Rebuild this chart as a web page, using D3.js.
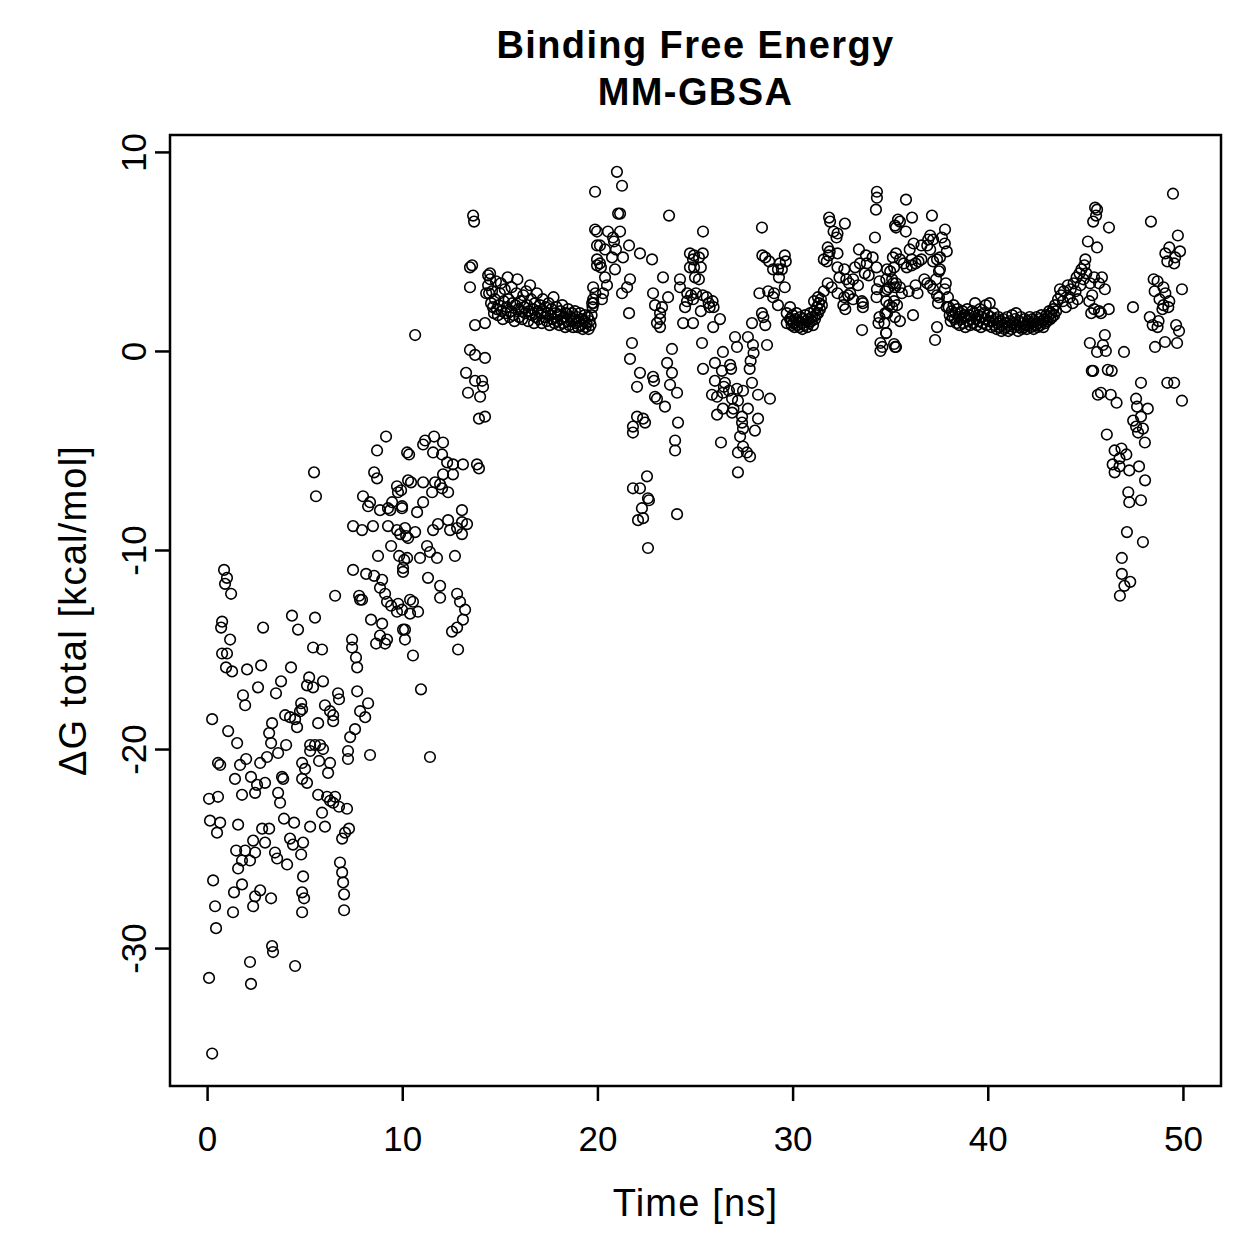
<!DOCTYPE html>
<html>
<head>
<meta charset="utf-8">
<script src="https://cdn.jsdelivr.net/npm/d3@7"></script>
<style>
  body { margin: 0; background: #fff; }
  text { font-family: "Liberation Sans", Arial, Helvetica, sans-serif; fill: #000; }
</style>
</head>
<body>
<script>
'use strict';

// chart text
const titleLines = ["Binding Free Energy", "MM-GBSA"];
const xLabel = "Time [ns]";
const yLabel = "\u0394G total [kcal/mol]";
const xTicks = [0, 10, 20, 30, 40, 50];
const yTicks = [-30, -20, -10, 0, 10];

// [time (ns), dG total (kcal/mol)], grouped by time window
const pts0to5 = [
  [0.87,-11.0],[1.02,-11.4],[0.92,-11.7],[1.23,-12.2],[4.35,-13.3],[4.66,-14.0],[2.87,-13.9],[0.77,-13.6],
  [0.72,-13.9],[1.18,-14.5],[0.77,-15.2],[1.02,-15.2],[0.97,-15.9],[1.28,-16.1],[2.05,-16.0],[2.77,-15.8],
  [4.30,-15.9],[3.79,-16.6],[5.12,-16.8],[2.61,-16.9],[3.53,-17.2],[1.84,-17.3],[1.95,-17.8],[0.26,-18.5],
  [1.08,-19.1],[1.54,-19.7],[3.33,-18.7],[4.0,-18.3],[4.25,-18.4],[4.51,-18.5],[4.76,-18.1],[4.61,-18.9],
  [3.18,-19.2],[3.28,-19.7],[4.05,-19.8],[3.64,-20.2],[0.56,-20.7],[0.67,-20.8],[1.69,-20.8],[2.0,-20.5],
  [2.72,-20.7],[3.07,-20.4],[1.43,-21.5],[2.25,-21.4],[2.56,-21.8],[2.97,-21.7],[3.84,-21.4],[3.9,-21.5],
  [4.87,-21.5],[0.1,-22.5],[0.56,-22.4],[1.79,-22.3],[2.46,-22.2],[3.64,-22.2],[3.74,-22.7],[0.15,-23.6],
  [0.67,-23.7],[0.51,-24.2],[1.59,-23.8],[2.82,-24.0],[3.18,-24.0],[3.94,-23.5],[4.46,-23.7],[4.25,-24.5],
  [4.4,-24.8],[2.36,-24.6],[2.97,-24.7],[1.49,-25.1],[1.95,-25.1],[2.46,-25.2],[2.2,-25.6],[1.79,-25.6],
  [1.59,-26.0],[3.48,-25.2],[3.59,-25.5],[4.1,-25.8],[4.82,-25.3],[0.31,-26.6],[1.38,-27.2],[1.79,-26.8],
  [2.72,-27.1],[2.46,-27.4],[3.28,-27.5],[2.36,-27.9],[0.41,-27.9],[1.33,-28.2],[4.87,-27.2],[4.87,-28.2],
  [0.46,-29.0],[3.33,-29.9],[3.38,-30.2],[2.2,-30.7],[4.51,-30.9],[0.1,-31.5],[2.25,-31.8],[0.26,-35.3]
];

const pts5to10 = [
  [9.17,-4.3],[8.71,-5.0],[10.25,-5.1],[5.48,-6.1],[5.58,-7.3],[8.56,-6.1],[8.71,-6.4],[9.73,-6.8],
  [9.78,-7.1],[10.3,-6.5],[7.99,-7.3],[8.35,-7.6],[8.25,-7.8],[8.86,-8.0],[9.27,-7.9],[9.48,-7.6],
  [9.38,-8.0],[9.99,-7.8],[7.48,-8.8],[7.94,-9.0],[8.5,-8.8],[9.27,-8.8],[9.73,-9.0],[9.89,-9.2],
  [10.2,-9.3],[9.43,-9.8],[8.76,-10.3],[9.84,-10.3],[10.1,-10.5],[10.04,-10.9],[7.48,-11.0],[8.15,-11.2],
  [8.56,-11.3],[8.97,-11.5],[6.56,-12.3],[7.79,-12.3],[7.84,-12.5],[7.94,-12.5],[8.86,-11.9],[9.12,-12.2],
  [9.22,-12.6],[9.43,-12.8],[9.79,-12.7],[9.73,-13.1],[10.4,-12.5],[10.04,-14.0],[8.4,-13.5],[8.97,-13.7],
  [8.86,-14.3],[9.22,-14.5],[8.66,-14.7],[9.12,-14.7],[5.53,-13.4],[7.43,-14.5],[5.43,-14.9],[5.89,-15.0],
  [7.43,-14.9],[7.63,-15.4],[7.69,-15.9],[5.23,-16.4],[5.43,-16.9],[5.94,-16.6],[6.71,-17.2],[6.76,-17.5],
  [7.69,-17.1],[8.25,-17.7],[7.84,-18.1],[8.1,-18.4],[4.82,-17.7],[4.87,-18.0],[6.04,-17.8],[6.3,-18.1],
  [6.46,-18.3],[6.46,-18.6],[5.69,-18.7],[7.58,-19.0],[7.33,-19.4],[8.35,-20.3],[5.28,-19.8],[5.53,-19.8],
  [5.79,-19.8],[5.94,-20.0],[5.28,-20.1],[5.74,-20.6],[6.3,-20.7],[7.22,-20.1],[7.22,-20.5],[6.2,-21.2],
  [4.87,-20.7],[5.02,-21.0],[5.12,-21.7],[5.69,-22.3],[6.15,-22.4],[6.3,-22.6],[6.46,-22.7],[6.56,-22.4],
  [6.76,-22.9],[5.89,-23.2],[7.17,-23.0],[5.28,-23.9],[6.04,-23.9],[7.27,-24.0],[7.07,-24.2],[6.92,-24.5],
  [4.92,-24.7],[6.81,-25.7],[6.92,-26.2],[4.92,-26.4],[6.97,-26.7],[4.97,-27.5],[7.02,-27.3],[7.02,-28.1]
];

const pts10to15 = [
  [13.63,6.8],[13.68,6.5],[13.47,4.2],[13.58,4.3],[14.4,3.8],[14.4,3.3],[13.47,3.2],[14.3,2.9],
  [13.73,1.3],[14.24,1.4],[10.66,0.8],[13.47,0.05],[13.73,-0.2],[14.24,-0.35],[13.27,-1.1],[13.73,-1.5],
  [14.09,-1.5],[14.14,-1.8],[13.37,-2.1],[13.99,-2.3],[13.93,-3.4],[14.24,-3.3],[10.35,-5.2],[11.07,-4.7],
  [11.17,-4.5],[11.63,-4.3],[11.58,-5.1],[12.04,-5.2],[12.09,-4.6],[12.3,-5.6],[12.6,-5.7],[13.11,-5.7],
  [13.83,-5.7],[13.93,-5.9],[12.6,-6.2],[12.09,-6.2],[10.45,-6.6],[11.07,-6.6],[11.68,-6.6],[11.94,-6.7],
  [12.04,-6.9],[12.35,-7.1],[11.53,-7.1],[9.94,-7.0],[9.99,-7.9],[10.76,-8.1],[11.07,-7.6],[13.06,-8.0],
  [11.83,-8.7],[12.35,-8.5],[12.45,-9.0],[12.81,-8.9],[13.06,-8.6],[13.32,-8.7],[13.06,-9.2],[11.58,-9.0],
  [10.14,-8.9],[10.66,-9.1],[10.3,-9.4],[11.27,-9.8],[11.42,-10.1],[10.91,-10.4],[10.25,-10.4],[11.78,-10.4],
  [12.7,-10.3],[10.04,-11.1],[11.32,-11.4],[11.94,-11.8],[11.94,-12.4],[12.81,-12.2],[12.96,-12.6],[13.22,-13.0],
  [10.55,-12.6],[10.81,-13.1],[10.4,-13.2],[9.99,-13.0],[13.11,-13.5],[12.81,-13.9],[12.55,-14.1],[10.14,-14.0],
  [10.14,-14.5],[10.55,-15.3],[12.86,-15.0],[10.96,-17.0],[11.42,-20.4]
];

const pts15to20 = [
  [14.5,3.9],[14.5,3.6],[14.45,2.9],[14.55,2.4],[14.6,3.0],[14.65,2.2],[14.7,1.9],[14.75,2.6],[14.8,3.5],
  [14.85,2.1],[14.9,1.8],[14.95,2.3],[15.0,2.9],[15.05,3.4],[15.1,2.0],[15.15,1.6],[15.2,2.5],[15.25,3.1],
  [15.3,1.9],[15.35,2.2],[15.4,3.7],[15.45,2.6],[15.5,1.7],[15.55,2.0],[15.6,3.2],[15.65,2.4],[15.7,1.8],
  [15.75,1.5],[15.8,2.3],[15.85,2.9],[15.9,3.6],[15.95,2.1],[16.0,1.7],[16.05,2.5],[16.1,2.0],[16.15,1.6],
  [16.2,2.8],[16.25,2.2],[16.3,1.9],[16.35,3.0],[16.4,2.3],[16.45,1.5],[16.5,2.0],[16.55,3.3],[16.6,2.6],
  [16.65,1.8],[16.7,2.1],[16.75,1.4],[16.8,2.4],[16.85,1.7],[16.9,2.9],[16.95,2.0],[17.0,1.6],[17.05,2.3],
  [17.1,1.9],[17.15,1.4],[17.2,2.6],[17.25,2.0],[17.3,1.7],[17.35,2.2],[17.4,1.5],[17.45,1.9],[17.5,2.4],
  [17.55,1.3],[17.6,1.8],[17.65,2.1],[17.7,1.6],[17.75,2.7],[17.8,1.4],[17.85,1.9],[17.9,2.2],[17.95,1.5],
  [18.0,1.8],[18.05,1.3],[18.1,2.0],[18.15,1.6],[18.2,2.3],[18.25,1.4],[18.3,1.7],[18.35,1.2],[18.4,1.9],
  [18.45,1.5],[18.5,2.1],[18.55,1.3],[18.6,1.7],[18.65,1.5],[18.7,1.9],[18.75,1.2],[18.8,1.6],[18.85,2.0],
  [18.9,1.4],[18.95,1.7],[19.0,1.2],[19.05,1.5],[19.1,1.9],[19.15,1.3],[19.2,1.6],[19.25,1.1],[19.3,1.5],
  [19.35,1.8],[19.4,1.2],[19.45,1.4],[19.5,1.7],[19.55,1.1],[19.6,1.5],[19.65,1.3],[19.7,1.8],[19.75,2.2],
  [19.88,8.0],[19.88,6.1],[19.98,5.3],[19.98,4.6],[19.98,4.3],[19.78,3.2],[19.73,2.4],[19.78,2.6]
];

const pts20to25 = [
  [21.0,9.0],[21.26,8.3],[21.06,6.9],[21.16,6.9],[23.67,6.8],[19.98,6.0],[20.54,6.0],[21.16,6.0],
  [20.8,5.7],[20.85,5.5],[20.13,5.3],[20.39,5.1],[21.62,5.3],[20.95,5.1],[21.31,4.7],[22.18,4.9],
  [22.8,4.6],[20.75,4.7],[20.13,4.4],[20.18,4.2],[20.9,4.1],[23.36,3.7],[20.39,3.7],[20.49,3.3],
  [21.67,3.6],[21.52,3.2],[21.26,2.9],[20.29,2.9],[19.9,2.9],[20.23,2.6],[19.8,2.4],[22.85,2.9],
  [23.62,2.7],[22.95,2.3],[23.31,2.2],[23.21,1.9],[23.21,1.6],[23.21,1.2],[23.05,1.4],[24.23,3.2],
  [24.49,2.2],[24.59,2.5],[24.9,2.6],[24.6,2.9],[24.74,4.9],[24.9,4.6],[24.74,4.2],[24.23,3.6],
  [24.39,1.4],[21.62,1.9],[21.77,0.4],[21.67,-0.4],[22.18,-1.1],[22.03,-1.8],[22.85,-1.3],[22.9,-1.5],
  [23.82,0.1],[23.57,-0.6],[23.82,-1.1],[23.72,-1.7],[24.08,-2.1],[22.95,-2.3],[23.05,-2.4],[23.46,-2.8],
  [24.13,-3.6],[22.03,-3.3],[22.34,-3.4],[22.44,-3.6],[21.82,-3.8],[21.82,-4.1],[23.98,-4.5],[23.98,-5.0],
  [22.54,-6.3],[21.82,-6.9],[22.18,-6.9],[22.59,-7.4],[22.64,-7.5],[22.28,-7.9],[22.34,-8.4],[22.08,-8.5],
  [24.08,-8.2],[22.59,-9.9]
];

const pts25to30 = [
  [25.41,6.0],[28.43,6.2],[24.95,4.8],[25.2,4.7],[25.4,4.9],[24.95,4.2],[25.3,4.2],[25.0,3.7],
  [25.2,3.6],[24.8,2.8],[25.05,2.9],[25.4,2.8],[25.6,2.7],[25.7,2.4],[25.9,2.5],[25.75,2.2],
  [25.95,2.2],[25.3,2.0],[24.9,1.4],[28.45,4.8],[28.6,4.7],[28.8,4.5],[29.6,4.8],[29.65,4.5],
  [29.35,4.4],[29.0,4.1],[29.25,4.1],[29.45,4.1],[29.3,3.7],[28.3,2.9],[28.75,3.0],[29.05,2.9],
  [29.6,3.2],[29.0,2.7],[29.25,2.3],[29.87,2.2],[29.7,1.9],[29.87,1.6],[29.95,1.5],[30.05,1.4],
  [29.7,1.4],[28.43,1.9],[28.5,1.7],[28.6,1.3],[26.28,1.6],[25.93,1.2],[25.36,0.4],[27.92,1.4],
  [27.05,0.7],[27.71,0.7],[27.97,0.3],[28.0,-0.1],[27.15,0.2],[28.69,0.3],[26.43,-0.05],[27.85,-0.5],
  [27.8,-0.9],[25.41,-0.9],[26.02,-0.6],[26.8,-0.7],[26.85,-0.9],[26.38,-1.0],[27.92,-1.6],[26.02,-1.5],
  [26.53,-1.6],[26.48,-1.8],[26.74,-2.0],[27.15,-1.9],[27.46,-2.0],[25.87,-2.2],[26.13,-2.3],[26.43,-2.1],
  [26.9,-2.4],[28.23,-2.2],[28.84,-2.4],[27.2,-2.5],[26.13,-3.2],[26.43,-2.9],[26.9,-3.1],[26.97,-2.9],
  [27.41,-3.3],[27.71,-2.9],[27.41,-3.6],[28.23,-3.4],[28.07,-4.0],[27.46,-3.9],[27.31,-4.3],[26.33,-4.6],
  [27.46,-4.8],[27.2,-5.1],[27.66,-5.1],[27.82,-5.3],[27.2,-6.1]
];

const pts30to35 = [
  [29.9,1.6],[29.95,1.3],[30.0,1.8],[30.05,1.4],[30.1,1.2],[30.15,1.6],[30.2,1.9],[30.25,1.3],[30.3,1.5],
  [30.35,1.2],[30.4,1.7],[30.45,1.4],[30.5,1.1],[30.55,1.6],[30.6,1.3],[30.65,1.8],[30.7,1.5],[30.75,1.2],
  [30.8,1.6],[30.85,1.4],[30.9,1.9],[30.95,1.5],[31.0,1.7],[31.05,1.3],[31.1,2.0],[31.15,1.6],[31.2,1.8],
  [31.25,2.2],[31.3,1.9],[31.35,2.4],[31.4,2.1],[31.45,2.6],[31.5,2.3],
  [34.32,8.0],[34.32,7.7],[34.27,7.1],[31.87,6.7],[31.92,6.5],[32.68,6.4],[32.1,6.0],[32.3,5.9],
  [32.25,5.7],[34.22,5.7],[35.25,6.3],[35.4,6.6],[31.8,5.2],[31.9,5.0],[31.85,4.8],[31.6,4.6],
  [31.75,4.5],[32.3,4.9],[33.4,5.1],[33.76,4.8],[34.1,4.7],[35.14,4.7],[32.3,4.2],[32.65,4.1],
  [33.2,4.2],[33.45,4.4],[33.8,4.4],[34.3,4.2],[34.84,4.1],[35.2,4.2],[32.4,3.7],[32.75,3.6],
  [32.9,3.4],[33.1,3.6],[33.35,3.3],[33.7,3.9],[33.9,3.8],[34.45,3.5],[34.8,3.6],[35.15,3.4],
  [31.8,3.4],[32.0,3.2],[31.6,3.0],[31.3,2.7],[31.1,2.5],[32.3,2.9],[32.65,2.7],[32.95,2.9],
  [33.1,2.6],[32.85,2.8],[33.6,2.4],[33.55,2.5],[34.32,3.1],[34.85,3.1],[35.25,3.2],[34.3,2.7],
  [34.8,2.5],[34.95,2.3],[32.6,2.3],[32.7,2.1],[33.6,2.2],[34.84,1.9],[34.45,1.7],[34.4,1.4],
  [35.25,1.7],[33.56,1.05],[34.79,0.9],[34.5,0.4],[34.6,0.2],[34.5,0.0],[35.25,0.2],[35.2,0.35]
];

const pts35to40 = [
  [35.81,7.6],[37.14,6.8],[36.12,6.7],[35.3,6.2],[35.5,6.5],[35.8,6.0],[37.81,6.1],[37.05,5.8],
  [37.2,5.6],[37.65,5.7],[37.8,5.4],[37.9,5.0],[36.9,5.3],[37.05,5.1],[36.95,5.6],[36.6,5.3],
  [36.2,5.4],[36.0,5.1],[35.3,4.9],[35.5,4.6],[35.7,4.4],[35.85,4.2],[36.1,4.6],[36.3,4.4],
  [36.45,4.5],[36.6,4.6],[36.1,4.3],[37.2,4.5],[37.4,4.6],[37.55,4.7],[37.55,4.1],[37.5,4.0],
  [35.0,4.0],[35.1,3.6],[34.95,3.2],[35.3,3.4],[34.75,3.0],[35.5,3.2],[35.6,2.9],[35.95,3.0],
  [36.3,3.3],[36.4,2.9],[36.75,3.6],[36.9,3.4],[37.05,3.3],[37.35,3.6],[37.2,3.1],[37.85,3.4],
  [37.8,3.1],[37.4,2.8],[37.45,2.4],[37.5,2.7],[37.96,2.7],[35.2,2.5],[35.1,2.2],[35.35,2.3],
  [34.75,1.9],[34.7,1.4],[34.8,0.9],[35.5,1.5],[35.3,0.2],[36.17,1.8],[37.4,1.2],[37.3,0.55],[37.9,2.2],
  [38.0,2.2],[38.05,1.8],[38.1,1.5],[38.15,2.0],[38.2,1.7],[38.25,2.3],[38.3,1.6],[38.35,1.9],[38.4,1.4],
  [38.45,2.1],[38.5,1.7],[38.55,1.3],[38.6,1.9],[38.65,1.6],[38.7,2.0],[38.75,1.4],[38.8,1.8],[38.85,1.2],
  [38.9,1.7],[38.95,2.1],[39.0,1.5],[39.05,1.8],[39.1,1.3],[39.15,1.6],[39.2,2.0],[39.25,1.4],[39.3,1.9],
  [39.35,2.4],[39.4,1.6],[39.45,1.3],[39.5,1.8],[39.55,1.5],[39.6,2.1],[39.65,1.2],[39.7,1.7],[39.75,1.4],
  [39.8,1.9],[39.85,1.6],[39.9,2.3],[39.95,1.3]
];

const pts40to45 = [
  [40.0,1.8],[40.05,1.5],[40.1,2.4],[40.15,1.7],[40.2,1.2],[40.25,1.5],[40.3,1.9],[40.35,1.3],[40.4,1.6],
  [40.45,1.1],[40.5,1.4],[40.55,1.7],[40.6,1.2],[40.65,1.5],[40.7,1.0],[40.75,1.3],[40.8,1.6],[40.85,1.1],
  [40.9,1.4],[40.95,1.2],[41.0,1.7],[41.05,1.0],[41.1,1.3],[41.15,1.5],[41.2,1.1],[41.25,1.8],[41.3,1.4],
  [41.35,1.2],[41.4,1.6],[41.45,1.9],[41.5,1.3],[41.55,1.0],[41.6,1.5],[41.65,1.2],[41.7,1.7],[41.75,1.1],
  [41.8,1.4],[41.85,1.2],[41.9,1.6],[41.95,1.3],[42.0,1.1],[42.05,1.5],[42.1,1.3],[42.15,1.7],[42.2,1.2],
  [42.25,1.4],[42.3,1.6],[42.35,1.1],[42.4,1.5],[42.45,1.3],[42.5,1.7],[42.55,1.2],[42.6,1.4],[42.65,1.6],
  [42.7,1.3],[42.75,1.8],[42.8,1.5],[42.85,1.2],[42.9,1.6],[42.95,1.4],[43.0,1.8],[43.05,1.5],[43.1,1.7],
  [43.15,2.0],[43.2,1.6],[43.25,1.9],[43.3,1.7],[43.35,2.1],[43.4,1.8],[43.45,2.3],[43.5,2.0],
  [43.6,2.6],[43.7,3.1],[43.75,2.8],[43.85,2.5],[43.9,3.0],[44.0,2.2],[44.1,3.3],[44.2,2.7],
  [44.25,3.1],[44.35,2.4],[44.4,3.4],[44.5,3.0],[44.55,3.7],[44.6,2.6],[44.7,3.9],[44.75,3.3],
  [44.8,4.1],[44.9,3.6],[44.95,4.3],[45.0,4.6],[45.05,3.9],[45.13,5.5],[45.2,2.5],[45.25,3.4],
  [45.3,1.9],[45.35,2.8],[45.45,3.7],[45.4,6.5],[45.5,7.2],[45.55,6.8],[45.6,5.2],[45.23,0.4],
  [45.6,-0.05],[45.33,-1.0],[45.64,-2.2]
];

const pts45to50 = [
  [49.49,7.9],[48.36,6.5],[45.6,7.1],[46.21,6.2],[49.74,5.8],[49.3,5.2],[49.1,4.9],[49.6,4.7],
  [49.85,5.0],[49.2,4.5],[49.55,4.4],[45.85,3.7],[45.7,3.4],[46.0,3.1],[48.5,3.6],[48.7,3.5],
  [48.55,3.0],[49.0,3.2],[49.1,2.9],[49.95,3.1],[48.8,2.6],[49.0,2.3],[49.3,2.5],[48.95,2.1],
  [49.25,2.2],[48.3,1.7],[48.45,1.3],[48.7,1.2],[48.75,1.5],[49.65,1.3],[49.8,1.0],[48.57,0.2],
  [49.08,0.45],[49.7,0.4],[45.45,2.1],[45.7,2.0],[46.2,2.1],[45.8,1.9],[47.44,2.2],[46.0,0.8],
  [45.9,0.3],[46.05,0.0],[46.98,-0.05],[45.4,-1.0],[46.15,-0.95],[46.35,-1.0],[47.85,-1.6],[49.2,-1.6],
  [49.55,-1.6],[49.95,-2.5],[45.8,-2.1],[46.3,-2.2],[46.6,-2.6],[47.6,-2.4],[47.65,-2.8],[48.2,-2.9],
  [47.45,-3.5],[47.85,-3.3],[47.6,-3.8],[47.95,-3.9],[47.7,-4.1],[48.05,-4.6],[46.1,-4.2],[46.5,-5.0],
  [46.85,-4.9],[47.1,-5.2],[46.75,-5.4],[46.4,-5.7],[46.5,-6.1],[46.75,-5.8],[47.25,-6.0],[47.75,-5.8],
  [48.06,-6.5],[47.2,-7.1],[47.25,-7.6],[47.85,-7.5],[47.13,-9.1],[47.95,-9.6],[46.87,-10.4],[46.87,-11.2],
  [47.3,-11.6],[47.0,-11.8],[46.77,-12.3]
];

const data = [].concat(pts0to5, pts5to10, pts10to15, pts15to20, pts20to25,
  pts25to30, pts30to35, pts35to40, pts40to45, pts45to50);

// plot box (R style, axes extend a bit past the data)
const W = 1259, H = 1259;
const box = { left: 170, right: 1221, top: 135, bottom: 1086 };

const svg = d3.select('body').append('svg')
  .attr('width', W)
  .attr('height', H);

const x = d3.scaleLinear()
  .domain([-1.9, 51.95])
  .range([box.left, box.right]);

const y = d3.scaleLinear()
  .domain([-36.93, 10.85])
  .range([box.bottom, box.top]);

// points (open circles)
svg.append('g')
  .selectAll('circle')
  .data(data)
  .enter()
  .append('circle')
  .attr('cx', d => x(d[0]))
  .attr('cy', d => y(d[1]))
  .attr('r', 5.3)
  .attr('fill', 'none')
  .attr('stroke', '#000')
  .attr('stroke-width', 1.6);

// box
svg.append('rect')
  .attr('x', box.left)
  .attr('y', box.top)
  .attr('width', box.right - box.left)
  .attr('height', box.bottom - box.top)
  .attr('fill', 'none')
  .attr('stroke', '#000')
  .attr('stroke-width', 2.5);

// R prints plain hyphens for negatives
const plain = d => String(d);

// x axis
const gx = svg.append('g')
  .attr('transform', 'translate(0,' + box.bottom + ')')
  .call(d3.axisBottom(x).tickValues(xTicks).tickFormat(plain)
    .tickSize(15).tickPadding(25).tickSizeOuter(0));
gx.select('.domain').remove();
gx.selectAll('line').attr('stroke-width', 2.5);
gx.selectAll('text').style('font-size', '35px');

// y axis, labels parallel to the axis
const gy = svg.append('g')
  .attr('transform', 'translate(' + box.left + ',0)')
  .call(d3.axisLeft(y).tickValues(yTicks).tickFormat(plain)
    .tickSize(15).tickSizeOuter(0));
gy.select('.domain').remove();
gy.selectAll('line').attr('stroke-width', 2.5);
gy.selectAll('text')
  .attr('x', null)
  .attr('dy', null)
  .attr('text-anchor', 'middle')
  .attr('transform', 'translate(-24,0) rotate(-90)')
  .style('font-size', '35px');

// title
svg.append('text')
  .attr('x', (box.left + box.right) / 2)
  .attr('y', 58)
  .attr('text-anchor', 'middle')
  .style('font-size', '38px')
  .style('font-weight', 'bold')
  .style('letter-spacing', '1.4px')
  .text(titleLines[0]);

svg.append('text')
  .attr('x', (box.left + box.right) / 2)
  .attr('y', 105)
  .attr('text-anchor', 'middle')
  .style('font-size', '38px')
  .style('font-weight', 'bold')
  .style('letter-spacing', '1.4px')
  .text(titleLines[1]);

// axis labels
svg.append('text')
  .attr('x', (box.left + box.right) / 2)
  .attr('y', 1216)
  .attr('text-anchor', 'middle')
  .style('font-size', '38px')
  .style('letter-spacing', '1.2px')
  .text(xLabel);

svg.append('text')
  .attr('transform', 'translate(86,' + (box.top + box.bottom) / 2 + ') rotate(-90)')
  .attr('text-anchor', 'middle')
  .style('font-size', '38px')
  .style('letter-spacing', '1.2px')
  .text(yLabel);
</script>
</body>
</html>
